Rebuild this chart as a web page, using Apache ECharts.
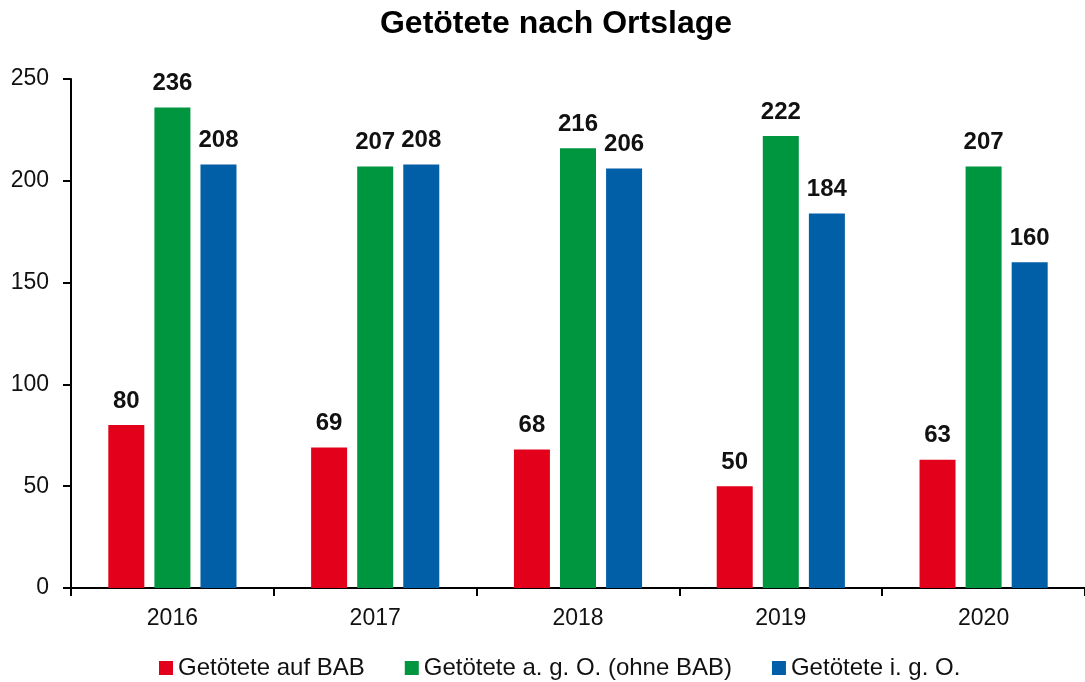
<!DOCTYPE html>
<html><head><meta charset="utf-8">
<script src="https://cdn.jsdelivr.net/npm/echarts@6/dist/echarts.min.js"></script>
<style>html,body{margin:0;padding:0;background:#fff}#c{width:1085px;height:682px}</style>
</head><body><div id="c"></div>
<script>
const years = ['2016','2017','2018','2019','2020'];
const aufBAB = [80, 69, 68, 50, 63];
const agoOhneBAB = [236, 207, 216, 222, 207];
const igo = [208, 208, 206, 184, 160];
const seriesNames = ['Getötete auf BAB', 'Getötete a. g. O. (ohne BAB)', 'Getötete i. g. O.'];
const yTicks = [0, 50, 100, 150, 200, 250];

const font = 'Liberation Sans, Arial, sans-serif';
const colors = ['#E2001A', '#00953F', '#005FA6'];
const lbl = {show: true, position: 'top', distance: 12, fontFamily: font, fontSize: 24, fontWeight: 'bold', color: '#111'};
function mk(name, data, i) {
  return {name, type: 'bar', data, barWidth: 36, barGap: '28%', itemStyle: {color: colors[i]}, label: lbl};
}
const chart = echarts.init(document.getElementById('c'));
chart.setOption({
  animation: false,
  title: {text: 'Getötete nach Ortslage', left: 556, textAlign: 'center', top: 8, padding: 0,
    textStyle: {fontFamily: font, fontSize: 32, fontWeight: 'bold', color: '#000'}},
  legend: {top: 656, left: 159, itemWidth: 14, itemHeight: 14, itemGap: 40, icon: 'rect', padding: 0,
    textStyle: {fontFamily: font, fontSize: 24, color: '#111'}, data: seriesNames},
  grid: {left: 71, right: -7, top: 79, bottom: 94, containLabel: false},
  xAxis: {type: 'category', data: years,
    axisLine: {lineStyle: {color: '#000', width: 2}},
    axisTick: {show: true, length: 8, lineStyle: {color: '#000', width: 2}, alignWithLabel: false},
    axisLabel: {fontFamily: font, fontSize: 23, color: '#111', margin: 19}},
  yAxis: {type: 'value', min: yTicks[0], max: yTicks[yTicks.length-1], interval: 50,
    splitLine: {show: false},
    axisLine: {show: true, lineStyle: {color: '#000', width: 2}},
    axisTick: {show: true, length: 8, lineStyle: {color: '#000', width: 2}},
    axisLabel: {fontFamily: font, fontSize: 23, color: '#111', margin: 22}},
  series: [mk(seriesNames[0], aufBAB, 0), mk(seriesNames[1], agoOhneBAB, 1), mk(seriesNames[2], igo, 2)]
});
</script></body></html>
